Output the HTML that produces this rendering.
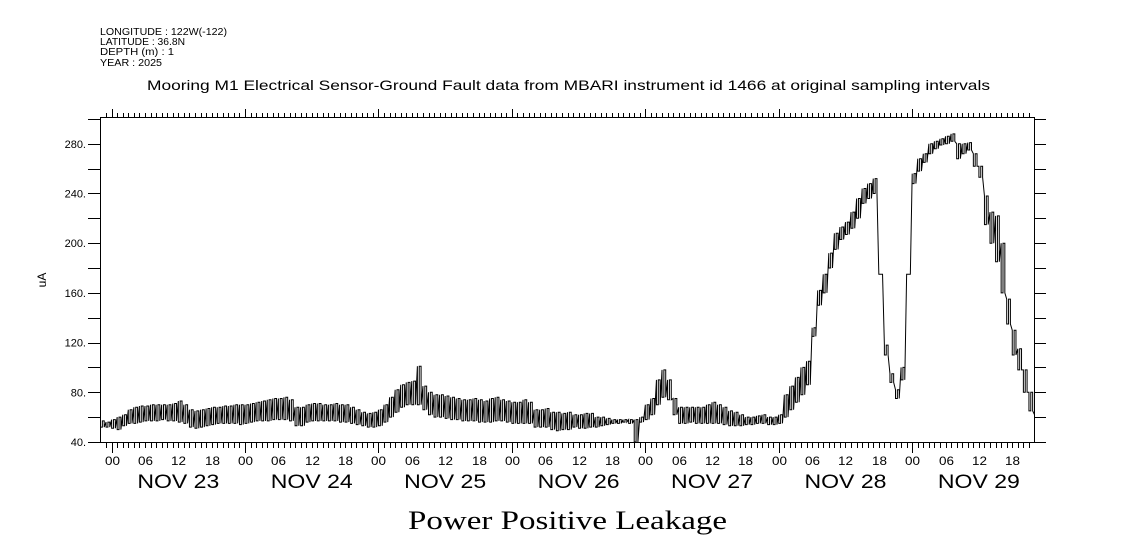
<!DOCTYPE html>
<html><head><meta charset="utf-8"><style>
body{margin:0;background:#fff;}
svg{display:block;font-family:"Liberation Sans",sans-serif;}
</style></head><body>
<svg id="chart" width="1121" height="560" viewBox="0 0 1121 560" xmlns="http://www.w3.org/2000/svg">
<g font-size="10" fill="#000">
<text x="100" y="35" textLength="127" lengthAdjust="spacingAndGlyphs">LONGITUDE : 122W(-122)</text>
<text x="100" y="45" textLength="85" lengthAdjust="spacingAndGlyphs">LATITUDE : 36.8N</text>
<text x="100" y="55" textLength="74" lengthAdjust="spacingAndGlyphs">DEPTH (m) : 1</text>
<text x="100" y="66" textLength="62" lengthAdjust="spacingAndGlyphs">YEAR : 2025</text>
</g>
<text x="147" y="90" font-size="14" textLength="843" lengthAdjust="spacingAndGlyphs">Mooring M1 Electrical Sensor-Ground Fault data from MBARI instrument id 1466 at original sampling intervals</text>
<rect x="100.5" y="117.5" width="934" height="325" fill="none" stroke="#000" stroke-width="1"/>
<g id="axes"></g>
<g id="series"></g>
<text x="46" y="280" font-size="12" text-anchor="middle" transform="rotate(-90 46 280)">uA</text>
<text x="408" y="529" font-size="26" font-family="Liberation Serif,serif" textLength="319" lengthAdjust="spacingAndGlyphs">Power Positive Leakage</text>
</svg>
<script>
const yTicks=[40,80,120,160,200,240,280];
const yTickLabels=["40.","80.","120.","160.","200.","240.","280."];
const dayLabels=["NOV 23","NOV 24","NOV 25","NOV 26","NOV 27","NOV 28","NOV 29"];
const hourLabels=["00","06","12","18"];
// hourly low/high values starting Nov 22 22:00
const lowValues=[52,52,
51,50,53,55,55,56,57,57,57,58,57,57,
56,55,52,51,52,53,54,55,55,55,55,54,
55,56,57,57,57,58,58,58,57,53,53,56,
57,57,57,57,57,56,56,55,54,53,52,52,
53,56,60,64,68,70,70,70,66,62,60,60,
59,58,58,57,57,57,56,56,56,57,57,56,
55,55,55,55,52,52,52,50,49,50,50,52,
51,51,52,52,53,54,55,55,56,55,40,56,
58,62,70,76,74,62,55,55,56,55,55,55,
55,55,54,53,53,53,54,54,55,55,54,54,
55,60,66,72,78,86,125,150,160,180,195,203,
207,212,220,232,236,240,175,110,88,75,90,175,
248,258,265,272,276,279,280,282,268,272,275,262,
253,215,200,185,160,135,110,98,80,65,58];
const highValues=[57,56,
58,60,62,66,68,69,69,70,70,70,70,71,
73,70,66,65,66,67,68,68,69,69,70,70,
70,71,72,73,74,75,75,76,74,68,68,70,
71,71,70,70,71,70,70,68,66,64,63,64,
66,70,76,82,86,88,89,101,85,80,78,78,
77,76,75,74,74,75,74,73,75,76,74,73,
72,72,74,72,66,66,67,64,64,63,64,62,
62,63,63,60,60,59,58,58,58,58,58,60,
70,75,90,98,90,75,68,68,68,68,68,70,
72,70,68,65,64,62,60,60,61,62,60,60,
62,78,85,92,100,105,132,162,175,192,208,213,
217,225,236,244,248,252,175,118,95,82,100,175,
256,268,272,280,282,284,286,288,280,280,281,272,
262,238,225,222,200,155,130,115,98,80,62];
const NS="http://www.w3.org/2000/svg";
const X0=100.5,X1=1034.5;
const startHour=-2,totalHours=168;
function xs(h){return X0+(h-startHour)/totalHours*(X1-X0);}
function ys(v){return 442-(v-40)*(49.7/40);}
const axes=document.getElementById('axes');
function line(x1,y1,x2,y2,name){const l=document.createElementNS(NS,'line');l.setAttribute('x1',x1);l.setAttribute('y1',y1);l.setAttribute('x2',x2);l.setAttribute('y2',y2);l.setAttribute('stroke','#000');


axes.appendChild(l);}
function text(x,y,s,size,anchor,name,len){const t=document.createElementNS(NS,'text');t.setAttribute('x',x);t.setAttribute('y',y);t.setAttribute('font-size',size);t.setAttribute('text-anchor',anchor);
if(len){t.setAttribute('textLength',len);t.setAttribute('lengthAdjust','spacingAndGlyphs');}
t.textContent=s;


axes.appendChild(t);}
for(let h=startHour+1;h<startHour+totalHours;h++){
 const x=Math.round(xs(h))+0.5;const major=(h%24===0);
 line(x,442.5,x,major?453:448,'x-tick-bottom');
 line(x,117.5,x,major?109:113,'x-tick-top');
 if(h%6===0){text(x,465,hourLabels[(h%24)/6],12,'middle','hour-label',15);}
}
dayLabels.forEach((d,i)=>{text(xs(i*24+12),488,d,19,'middle','day-label',82);});
for(let v=40;v<=300;v+=20){
 const y=Math.round(ys(v))+0.5;
 if(y<117||y>443)continue;
 line(88,y,100.5,y,'y-tick-left');
 line(1034.5,y,1046,y,'y-tick-right');
}
yTicks.forEach((v,i)=>{text(86,ys(v)+4,yTickLabels[i],11,'end','y-tick-label');});
let d='';
for(let i=0;i<lowValues.length;i++){
 const h=startHour+i;
 const steps=(i<lowValues.length-1)?3:1;
 for(let k=0;k<steps;k++){
  const x=xs(h+k/3).toFixed(2);
  const a=(k%2===0)?highValues[i]:lowValues[i];
  const b=(k%2===0)?lowValues[i]:highValues[i];
  d+=(d?'L':'M')+x+','+ys(a).toFixed(1)+'L'+x+','+ys(b).toFixed(1);
 }
}
const pl=document.createElementNS(NS,'path');
pl.setAttribute('d',d);pl.setAttribute('fill','none');pl.setAttribute('stroke','#000');pl.setAttribute('stroke-width','1');


document.getElementById('series').appendChild(pl);
</script>
</body></html>
